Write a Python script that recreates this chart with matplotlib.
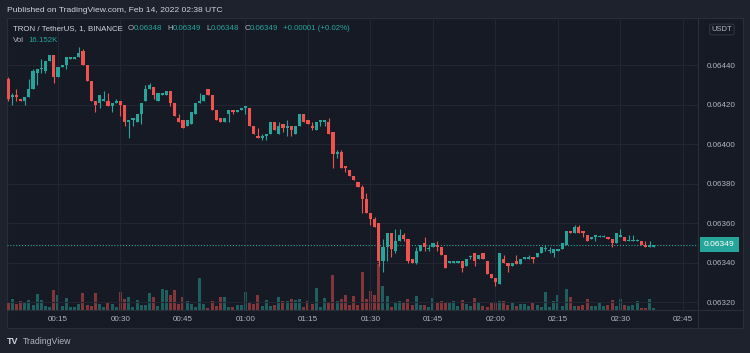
import numpy as np
import matplotlib
matplotlib.use("Agg")
import matplotlib.pyplot as plt
from matplotlib.patches import Rectangle
from matplotlib.lines import Line2D
from matplotlib.transforms import blended_transform_factory

plt.rcParams['font.family'] = ['Liberation Sans', 'DejaVu Sans']

# 1-minute TRX/USDT candles from 00:03 to 02:38 UTC
# prices are in units of 0.00001 USDT
start_minute = 3
opens = [6433, 6424, 6425, 6423, 6422, 6424, 6428, 6436, 6438, 6437,
         6442, 6445, 6434, 6439, 6440, 6443, 6443, 6444, 6447, 6440,
         6432, 6422, 6421, 6422, 6422, 6419, 6421, 6422, 6420, 6411,
         6412, 6411, 6415, 6422, 6428, 6429, 6422, 6425, 6425, 6427,
         6421, 6413, 6412, 6409, 6410, 6415, 6421, 6422, 6428, 6425,
         6417, 6413, 6411, 6415, 6417, 6416, 6417, 6418, 6418, 6409,
         6404, 6403, 6404, 6405, 6411, 6405, 6410, 6408, 6409, 6405,
         6409, 6415, 6412, 6409, 6407, 6411, 6411, 6411, 6406, 6395,
         6396, 6389, 6387, 6384, 6381, 6378, 6372, 6365, 6362, 6360,
         6341, 6348, 6355, 6346, 6351, 6354, 6352, 6342, 6340, 6346,
         6350, 6347, 6348, 6349, 6348, 6344, 6340, 6340, 6340, 6341,
         6338, 6343, 6345, 6342, 6345, 6341, 6334, 6332, 6329, 6342,
         6340, 6338, 6341, 6339, 6342, 6342, 6343, 6343, 6345, 6347,
         6346, 6345, 6346, 6347, 6349, 6356, 6355, 6358, 6356, 6354,
         6352, 6353, 6353, 6353, 6353, 6352, 6350, 6353, 6353, 6351,
         6351, 6351, 6351, 6349, 6348, 6348]
highs = [6434, 6426, 6428, 6423, 6424, 6433, 6438, 6438, 6443, 6442,
         6445, 6445, 6439, 6440, 6444, 6444, 6444, 6449, 6448, 6440,
         6432, 6422, 6425, 6427, 6426, 6421, 6423, 6422, 6420, 6412,
         6413, 6415, 6421, 6430, 6431, 6429, 6426, 6426, 6427, 6427,
         6421, 6415, 6412, 6412, 6416, 6421, 6426, 6425, 6428, 6425,
         6417, 6413, 6413, 6417, 6417, 6417, 6418, 6419, 6418, 6409,
         6408, 6405, 6405, 6411, 6411, 6411, 6410, 6412, 6409, 6409,
         6415, 6415, 6412, 6411, 6411, 6412, 6412, 6413, 6406, 6397,
         6397, 6389, 6387, 6384, 6381, 6379, 6375, 6365, 6363, 6360,
         6352, 6355, 6355, 6357, 6357, 6355, 6352, 6342, 6348, 6349,
         6353, 6349, 6350, 6351, 6348, 6344, 6341, 6341, 6341, 6341,
         6342, 6344, 6345, 6344, 6345, 6341, 6334, 6332, 6345, 6344,
         6340, 6340, 6344, 6342, 6343, 6344, 6343, 6345, 6348, 6349,
         6348, 6347, 6347, 6350, 6356, 6356, 6359, 6359, 6356, 6354,
         6353, 6354, 6354, 6354, 6353, 6352, 6355, 6357, 6353, 6354,
         6354, 6352, 6351, 6351, 6351, 6349]
lows = [6422, 6420, 6422, 6422, 6420, 6424, 6428, 6430, 6436, 6436,
        6442, 6431, 6434, 6439, 6438, 6443, 6443, 6444, 6440, 6432,
        6422, 6416, 6418, 6422, 6419, 6416, 6421, 6414, 6409, 6403,
        6409, 6411, 6410, 6422, 6428, 6423, 6422, 6425, 6425, 6419,
        6414, 6411, 6408, 6409, 6410, 6415, 6421, 6422, 6425, 6417,
        6412, 6411, 6411, 6411, 6415, 6416, 6417, 6415, 6409, 6405,
        6403, 6402, 6402, 6405, 6407, 6405, 6406, 6404, 6404, 6405,
        6409, 6411, 6410, 6407, 6407, 6409, 6409, 6405, 6388, 6393,
        6388, 6386, 6384, 6382, 6378, 6365, 6365, 6359, 6358, 6338,
        6335, 6341, 6343, 6345, 6351, 6351, 6340, 6340, 6339, 6346,
        6346, 6346, 6348, 6346, 6344, 6337, 6340, 6340, 6340, 6335,
        6338, 6342, 6338, 6342, 6342, 6334, 6332, 6328, 6329, 6340,
        6335, 6338, 6339, 6339, 6342, 6342, 6340, 6343, 6345, 6346,
        6345, 6343, 6346, 6347, 6349, 6355, 6355, 6355, 6353, 6351,
        6352, 6351, 6353, 6353, 6352, 6348, 6350, 6353, 6351, 6351,
        6351, 6351, 6349, 6348, 6348, 6348]
closes = [6423, 6425, 6424, 6422, 6424, 6428, 6437, 6438, 6438, 6442,
          6445, 6434, 6439, 6440, 6444, 6444, 6444, 6446, 6440, 6432,
          6422, 6420, 6425, 6423, 6419, 6421, 6422, 6420, 6411, 6412,
          6413, 6415, 6421, 6428, 6430, 6425, 6426, 6426, 6427, 6421,
          6414, 6411, 6408, 6412, 6416, 6421, 6422, 6425, 6425, 6417,
          6412, 6411, 6413, 6417, 6416, 6417, 6418, 6419, 6409, 6405,
          6403, 6404, 6405, 6411, 6407, 6409, 6408, 6409, 6407, 6409,
          6415, 6411, 6410, 6408, 6411, 6412, 6412, 6405, 6395, 6396,
          6388, 6388, 6384, 6382, 6378, 6372, 6365, 6362, 6358, 6341,
          6348, 6355, 6347, 6351, 6354, 6352, 6341, 6340, 6346, 6349,
          6348, 6347, 6350, 6348, 6344, 6337, 6341, 6341, 6341, 6337,
          6342, 6343, 6341, 6344, 6342, 6334, 6332, 6330, 6345, 6340,
          6338, 6340, 6339, 6342, 6343, 6343, 6342, 6345, 6348, 6347,
          6346, 6347, 6347, 6350, 6356, 6355, 6358, 6355, 6355, 6351,
          6353, 6354, 6353, 6353, 6352, 6350, 6355, 6354, 6351, 6351,
          6351, 6351, 6349, 6348, 6349, 6349]
# volume in thousands of TRX
volumes_k = [77, 107, 60, 87, 77, 97, 50, 160, 103, 40,
             27, 197, 153, 40, 117, 27, 27, 57, 167, 50,
             37, 173, 57, 27, 70, 60, 33, 177, 107, 127,
             27, 97, 50, 50, 173, 130, 40, 207, 200, 147,
             200, 57, 130, 87, 60, 33, 320, 57, 20, 87,
             40, 130, 130, 33, 27, 50, 47, 177, 77, 60,
             153, 40, 97, 40, 50, 127, 87, 90, 107, 97,
             107, 33, 87, 63, 217, 33, 117, 70, 350, 87,
             113, 153, 53, 143, 53, 383, 113, 187, 153, 480,
             237, 143, 33, 80, 93, 77, 113, 53, 140, 53,
             47, 33, 120, 80, 93, 73, 70, 93, 37, 103,
             63, 37, 120, 70, 43, 33, 70, 70, 87, 87,
             53, 77, 37, 63, 63, 37, 80, 47, 27, 183,
             33, 93, 153, 37, 213, 127, 37, 40, 47, 113,
             40, 37, 67, 37, 47, 100, 40, 113, 47, 40,
             47, 87, 17, 17, 107, 16]

price_ticks = [0.06320, 0.06340, 0.06360, 0.06380, 0.06400, 0.06420, 0.06440]
time_ticks = [15, 30, 45, 60, 75, 90, 105, 120, 135, 150, 165]
time_labels = ["00:15", "00:30", "00:45", "01:00", "01:15", "01:30",
               "01:45", "02:00", "02:15", "02:30", "02:45"]
last_price = 0.06349

# colours (TradingView dark theme)
BG = '#1e222d'
PANEL = '#161a25'
GRID = '#222632'
BORDER = '#2a2e39'
TXT = '#b2b5be'
TXT_LIGHT = '#d1d4dc'
UP = '#26a69a'
DOWN = '#ef5350'
VOL_UP = '#1e605f'
VOL_DOWN = '#82363a'

W, H = 750, 353


def fx(px):
    return px / W


def fy(py):
    return 1 - py / H


o = np.array(opens) * 1e-5
h = np.array(highs) * 1e-5
l = np.array(lows) * 1e-5
c = np.array(closes) * 1e-5
t = start_minute + np.arange(len(o))
up = c >= o

fig = plt.figure(figsize=(W / 100, H / 100), dpi=100, facecolor=BG)

# chart panel + separators
fig.add_artist(Rectangle((fx(7), fy(328)), fx(736), 310 / H, transform=fig.transFigure,
                         facecolor=PANEL, edgecolor=BORDER, lw=0.8, zorder=0))
fig.add_artist(Line2D([fx(698), fx(698)], [fy(328), fy(18)], color=BORDER, lw=0.8))
fig.add_artist(Line2D([fx(7), fx(743)], [fy(310), fy(310)], color=BORDER, lw=0.8))

rect = [fx(7), fy(310), fx(691), 292 / H]
ax_vol = fig.add_axes(rect)
ax = fig.add_axes(rect, sharex=ax_vol)
ax_vol.patch.set_alpha(0)
ax.patch.set_alpha(0)

# volume
ax_vol.bar(t, volumes_k, width=0.72, color=np.where(up, VOL_UP, VOL_DOWN), linewidth=0)
ax_vol.set_ylim(0, 2920)
ax_vol.set_yticks([])
ax_vol.tick_params(axis='x', length=0, labelbottom=False)
for s in ax_vol.spines.values():
    s.set_visible(False)

# candles
colors = np.where(up, UP, DOWN)
ax.vlines(t, l, h, colors=colors, lw=0.8, zorder=3)
body = np.maximum(np.abs(c - o), 0.45e-5)
ax.bar(t, body, bottom=np.minimum(o, c), width=0.78, color=colors, linewidth=0, zorder=4)

ax.set_xlim(2.76, 168.6)
ax.set_ylim(0.0631595, 0.064638)
ax.set_xticks(time_ticks)
ax.set_xticklabels(time_labels)
ax.set_yticks(price_ticks)
ax.set_yticklabels([f"{p:.5f}" for p in price_ticks])
ax.yaxis.tick_right()
ax.tick_params(axis='both', length=0, colors=TXT, labelsize=5.8)
ax.tick_params(axis='y', pad=6)
ax.tick_params(axis='x', pad=4.5)
ax.grid(True, color=GRID, lw=0.8, zorder=0)
ax.set_axisbelow(True)
for s in ax.spines.values():
    s.set_visible(False)

# last price line and label
ax.axhline(last_price, color=UP, lw=0.8, ls=(0, (1, 1.6)), zorder=2)
trans = blended_transform_factory(ax.transAxes, ax.transData)
ax.text(1 + 6 / 691, last_price, f"{last_price:.5f}", transform=trans, ha='left', va='center',
        fontsize=6.1, color='white',
        bbox=dict(boxstyle='square,pad=0.45', fc=UP, ec='none'), zorder=6, clip_on=False)

# header
fig.text(fx(7), fy(10), "Published on TradingView.com, Feb 14, 2022 02:38 UTC",
         fontsize=6.1, color=TXT_LIGHT, va='center')


def chain(parts, x, y):
    prev = fig.text(fx(x), fy(y), parts[0][0], color=parts[0][1], fontsize=5.7, va='center')
    for s, col, gap in parts[1:]:
        prev = ax.annotate(s, xy=(1, 0), xycoords=prev, xytext=(gap, 0),
                           textcoords='offset points', color=col, fontsize=5.7,
                           va='bottom', annotation_clip=False)


chain([("TRON / TetherUS, 1, BINANCE", TXT_LIGHT),
       ("O", TXT, 3.6), ("0.06348", UP, 0),
       ("H", TXT, 3.6), ("0.06349", UP, 0),
       ("L", TXT, 3.6), ("0.06348", UP, 0),
       ("C", TXT, 3.6), ("0.06349", UP, 0),
       ("+0.00001 (+0.02%)", UP, 3.2)], 13, 29)
chain([("Vol", TXT), ("16.152K", UP, 3.0)], 13, 40)

# currency badge
fig.text(fx(722), fy(29.5), "USDT", fontsize=5.5, color=TXT, ha='center', va='center',
         bbox=dict(boxstyle='round,pad=0.25', fc=PANEL, ec='#363a45', lw=0.6))

# footer logo
fig.text(fx(7), fy(341), "TV", fontsize=6.5, color=TXT_LIGHT, weight='heavy', va='center')
fig.text(fx(23), fy(341), "TradingView", fontsize=6.3, color=TXT, va='center')

fig.savefig("out.png", dpi=100, facecolor=BG)
